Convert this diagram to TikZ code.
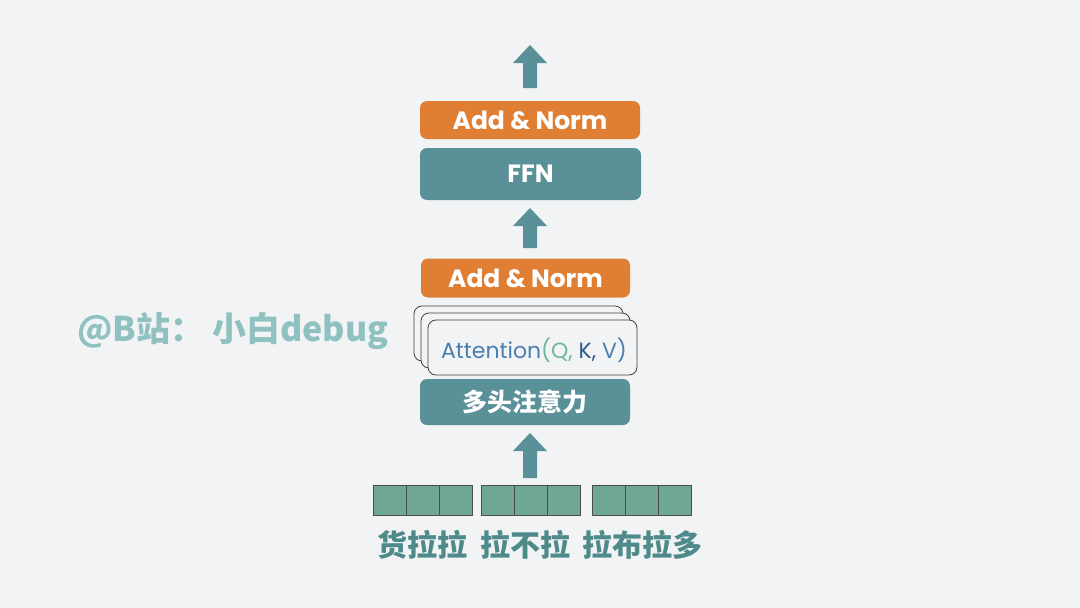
\documentclass[tikz,border=0pt]{standalone}
\usepackage{fontspec}
\setmainfont{Poppins}
\newfontfamily\cjk{Noto Sans CJK SC}
\definecolor{teal}{HTML}{5A9198}
\definecolor{orng}{HTML}{E07F34}
\definecolor{cell}{HTML}{6FA796}
\definecolor{word}{HTML}{4E8A8A}
\definecolor{mark}{HTML}{8FC1C0}
\definecolor{bg}{HTML}{F2F3F5}
\definecolor{attn}{HTML}{4C7EB0}
\definecolor{qcol}{HTML}{6DB99A}
\definecolor{kcol}{HTML}{2E5A8A}
\tikzset{
  block/.style={rounded corners=7pt, draw=none, text=white, font=\fontsize{25}{25}\selectfont\bfseries},
  norm/.style={block, fill=orng},
  layer/.style={block, fill=teal},
  head/.style={rounded corners=8pt, draw=black!75, fill=bg, line width=0.8pt},
  tok/.style={draw=black!70, fill=cell, line width=1pt},
  word/.style={text=word, font=\cjk\fontsize{30}{30}\selectfont\bfseries},
  up/.style={fill=teal}
}
\newcommand{\uparr}[3]{% x, y bottom, y top
  \fill[up] (#1-7,#2) -- (#1-7,#3+18) -- (#1-17,#3+18) -- (#1,#3) -- (#1+17,#3+18) -- (#1+7,#3+18) -- (#1+7,#2) -- cycle;}
\begin{document}
\begin{tikzpicture}[x=1pt,y=-1pt]
\fill[bg] (0,0) rectangle (1080,608);
\useasboundingbox (0,0) rectangle (1080,608);

% arrows
\uparr{530}{88}{45}
\uparr{530}{248}{208}
\uparr{530}{478}{433}

% upper block
\node[norm, minimum width=220, minimum height=38] (norm2) at (530,120) {Add \& Norm};
\node[layer, minimum width=221, minimum height=52] (ffn) at (530.5,174) {FFN};
\node[norm, minimum width=209, minimum height=39] (norm1) at (525.5,278) {Add \& Norm};

% stacked attention heads
\foreach \d in {14,7} {
  \draw[head] (428-\d,320-\d) rectangle (637-\d,375-\d);
}
\node[head, minimum width=209, minimum height=55, inner sep=0pt] (att) at (532.5,347.5) {};
\node[font=\fontsize{22}{22}\selectfont] (atxt) at (534,350) {\textcolor{attn}{Attention}\textcolor{qcol}{(Q,} \textcolor{kcol}{K,} \textcolor{attn}{V)}};
\node[layer, minimum width=210, minimum height=46, font=\cjk\fontsize{25}{25}\selectfont\bfseries] (mha) at (525,402) {多头注意力};

% tokens
\foreach \g/\x in {1/373,2/481,3/592} {
  \foreach \i in {0,1,2} {
    \draw[tok] (\x+\i*33,485) rectangle ++(33,30);
  }
}
\node[word] (w1) at (422,545) {货拉拉};
\node[word] (w2) at (525,545) {拉不拉};
\node[word] (w3) at (642,545) {拉布拉多};

% watermark
\node[text=mark, font=\cjk\fontsize{34}{34}\selectfont\bfseries] (wm) at (233,331) {@B站： 小白debug};
\end{tikzpicture}
\end{document}
